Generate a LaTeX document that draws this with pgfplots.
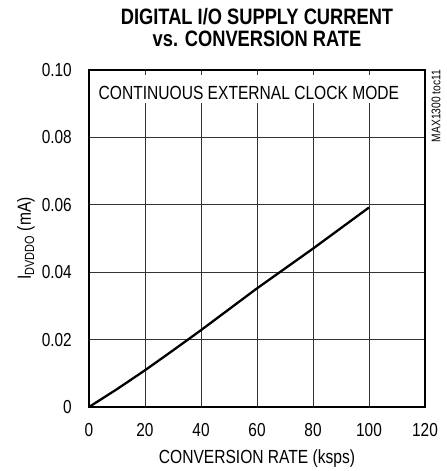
\documentclass[border=0pt]{standalone}
\usepackage{fontspec}
\setmainfont{Liberation Sans}[FakeStretch=0.82]
\usepackage{pgfplots}
\pgfplotsset{compat=1.18}
\begin{document}
\begin{tikzpicture}[x=1bp,y=1bp]
\path[use as bounding box] (-89,-64) rectangle (358,407);
\begin{axis}[
  at={(0,0)}, anchor=south west,
  scale only axis, width=336bp, height=337bp,
  xmin=0, xmax=120, ymin=0, ymax=0.1,
  xtick={0,20,40,60,80,100,120},
  ytick={0,0.02,0.04,0.06,0.08,0.1},
  xticklabels={0,20,40,60,80,100,120},
  yticklabels={0,0.02,0.04,0.06,0.08,0.10},
  major tick length=0pt,
  grid=major,
  major grid style={draw=black!80, line width=0.9bp},
  axis line style={line width=2.6bp},
  ticklabel style={font=\fontsize{18.8bp}{21bp}\selectfont, inner sep=0pt},
  yticklabel style={anchor=east, xshift=-17bp},
  xticklabel style={anchor=north, yshift=-16bp},
  clip=false,
]
\addplot[black, line width=2.3bp] coordinates {
 (0,0) (10,0.0053) (20,0.0109) (30,0.0168) (40,0.0228) (50,0.0290)
 (60,0.0352) (70,0.0411) (80,0.0470) (90,0.0531) (100,0.0592)
};
\node[anchor=base, fill=white, inner xsep=5bp, inner ysep=0pt, text height=25bp, text depth=3bp,
      font=\fontsize{19bp}{21bp}\selectfont] at (axis cs:57.1,0.0911) {CONTINUOUS EXTERNAL CLOCK MODE};
\node[anchor=base, font=\bfseries\fontsize{22.3bp}{24bp}\selectfont] at ([yshift=45bp]axis description cs:0.5,1) {DIGITAL I/O SUPPLY CURRENT};
\node[anchor=base, font=\bfseries\fontsize{22.3bp}{24bp}\selectfont] at ([yshift=23bp]axis description cs:0.5,1) {vs. CONVERSION RATE};
\node[anchor=base, font=\fontsize{19bp}{21bp}\selectfont] at ([yshift=-56bp]axis description cs:0.5,0) {CONVERSION RATE (ksps)};
\node[anchor=base, rotate=90, font=\fontsize{19bp}{21bp}\selectfont] at ([xshift=-58bp]axis description cs:0,0.5) {I\textsubscript{DVDDO} (mA)};
\node[anchor=center, rotate=90, inner sep=0pt, font=\fontsize{12.5bp}{14bp}\selectfont] at ([xshift=11bp]axis description cs:1,0.893) {MAX1300 toc11};
\end{axis}
\end{tikzpicture}
\end{document}
